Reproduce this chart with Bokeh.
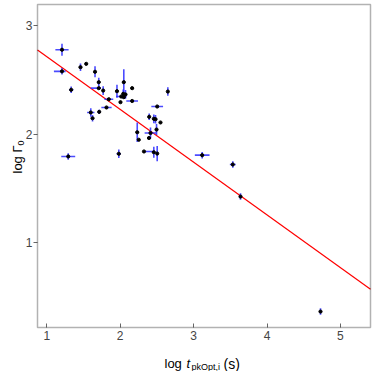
import numpy as np
from bokeh.plotting import figure
from bokeh.models import Range1d, FixedTicker, Label, LinearAxis, BoxAnnotation
from bokeh.embed import file_html
from bokeh.resources import INLINE

# ---- data ----
log_t = [1.207, 1.207, 1.459, 1.537, 1.657, 1.708, 1.708, 1.768, 1.332, 1.845,
         1.813, 1.599, 1.623, 1.714, 1.956, 2.049, 2.041, 2.014, 2.049, 2.072,
         2.004, 2.163, 2.163, 2.649, 2.504, 2.395, 2.458, 2.481, 2.549, 2.232,
         2.253, 2.413, 2.392, 2.495, 2.324, 2.458, 2.504, 1.981, 1.292, 3.117,
         3.534, 3.639, 4.729]
log_gamma = [2.777, 2.578, 2.616, 2.647, 2.574, 2.478, 2.423, 2.401, 2.408, 2.321,
             2.245, 2.199, 2.146, 2.205, 2.395, 2.478, 2.371, 2.346, 2.340, 2.365,
             2.294, 2.423, 2.305, 2.392, 2.254, 2.159, 2.141, 2.137, 2.107, 2.017,
             1.948, 2.010, 1.964, 2.042, 1.840, 1.833, 1.821, 1.819, 1.794, 1.806,
             1.720, 1.425, 0.366]
t_err_lo = [0.09, 0.11, 0.0, 0.0, 0.0, 0.0, 0.11, 0.0, 0.03, 0.06,
            0.07, 0.05, 0.0, 0.02, 0.0, 0.0, 0.0, 0.07, 0.0, 0.0,
            0.0, 0.0, 0.08, 0.0, 0.08, 0.0, 0.0, 0.0, 0.0, 0.0,
            0.0, 0.08, 0.0, 0.0, 0.0, 0.0, 0.0, 0.03, 0.095, 0.10,
            0.04, 0.0, 0.0]
t_err_hi = [0.09, 0.05, 0.0, 0.0, 0.0, 0.0, 0.03, 0.0, 0.03, 0.06,
            0.07, 0.05, 0.0, 0.02, 0.0, 0.0, 0.0, 0.07, 0.0, 0.0,
            0.0, 0.0, 0.08, 0.0, 0.08, 0.0, 0.0, 0.0, 0.0, 0.0,
            0.0, 0.08, 0.0, 0.0, 0.13, 0.0, 0.0, 0.03, 0.095, 0.10,
            0.04, 0.0, 0.0]
g_err_lo = [0.055, 0.03, 0.035, 0.0, 0.05, 0.04, 0.0, 0.04, 0.03, 0.0,
            0.0, 0.04, 0.03, 0.02, 0.06, 0.12, 0.04, 0.0, 0.0, 0.04,
            0.0, 0.0, 0.0, 0.04, 0.0, 0.03, 0.04, 0.04, 0.0, 0.09,
            0.0, 0.05, 0.0, 0.05, 0.0, 0.05, 0.07, 0.04, 0.03, 0.03,
            0.03, 0.03, 0.03]
g_err_hi = g_err_lo

fit_intercept = 3.198
fit_slope = -0.4856

x_ticks = [1, 2, 3, 4, 5]
y_ticks = [1, 2, 3]

# ---- layout: the Bokeh frame covers the whole canvas; the plot box is drawn inside ----
W, H = 372, 371
X_ORIGIN_PX, X_SCALE = 46.3, 73.4     # pixel of x=1, pixels per unit
Y_ORIGIN_PX, Y_SCALE = 25.0, 108.6    # pixel of y=3, pixels per unit

def px_to_x(px):
    return 1 + (px - X_ORIGIN_PX) / X_SCALE

def py_to_y(py):
    return 3 - (py - Y_ORIGIN_PX) / Y_SCALE

box_l, box_r = px_to_x(37), px_to_x(370)
box_t, box_b = py_to_y(4), py_to_y(327)

p = figure(width=W, height=H, min_border=0,
           min_border_left=0, min_border_right=0, min_border_top=0, min_border_bottom=0,
           x_range=Range1d(px_to_x(0), px_to_x(W)), y_range=Range1d(py_to_y(H), py_to_y(0)),
           x_axis_location=None, y_axis_location=None,
           output_backend="svg", toolbar_location=None, tools="")
p.background_fill_color = "white"
p.border_fill_color = "white"
p.outline_line_color = None
for g in p.grid:
    g.visible = False

def style_axis(ax):
    ax.axis_line_color = None
    ax.major_tick_line_color = "#666666"
    ax.major_tick_line_width = 1
    ax.minor_tick_line_color = None
    ax.major_label_text_font = "Liberation Sans"
    ax.major_label_text_font_size = "12px"
    ax.major_label_text_color = "#444444"

xaxis = LinearAxis(fixed_location=box_b, ticker=FixedTicker(ticks=x_ticks))
style_axis(xaxis)
xaxis.major_tick_in = 4
xaxis.major_tick_out = 0
xaxis.major_label_standoff = 3
p.add_layout(xaxis, "below")

yaxis = LinearAxis(fixed_location=box_l, ticker=FixedTicker(ticks=y_ticks))
style_axis(yaxis)
yaxis.major_tick_in = 0
yaxis.major_tick_out = 4
yaxis.major_label_standoff = 1
p.add_layout(yaxis, "left")

p.add_layout(BoxAnnotation(left=box_l, right=box_r, bottom=box_b, top=box_t,
                           fill_color=None, fill_alpha=0, line_color="black",
                           line_width=1.5, level="overlay"))

# fit line
fx = np.array([box_l, box_r])
p.line(fx, fit_intercept + fit_slope * fx, line_color="red", line_width=1.2)

# error bars
x = np.array(log_t)
y = np.array(log_gamma)
xl = np.array(t_err_lo); xh = np.array(t_err_hi)
yl = np.array(g_err_lo); yh = np.array(g_err_hi)
mx = (xl + xh) > 0
p.segment(x0=(x - xl)[mx], y0=y[mx], x1=(x + xh)[mx], y1=y[mx],
          line_color="#2b2bff", line_alpha=0.85, line_width=1.6)
my = (yl + yh) > 0
p.segment(x0=x[my], y0=(y - yl)[my], x1=x[my], y1=(y + yh)[my],
          line_color="#2b2bff", line_alpha=0.85, line_width=1.6)

p.scatter(x, y, size=3.2, marker="circle", fill_color="black", line_color="black")

# axis titles built from text pieces (page pixel positions -> frame screen units)
F = "Liberation Sans"
def lab(txt, px, py, size, style="normal", angle=0.0):
    p.add_layout(Label(x=px, y=H - py, x_units="screen", y_units="screen", text=txt,
                       text_font=F, text_font_size=size, text_font_style=style,
                       text_color="black", text_align="left",
                       text_baseline="alphabetic", angle=angle))

lab("log", 164, 363, "13px")
lab("t", 186, 363, "13px", "italic")
lab("pkOpt,i", 191, 366, "9px")
lab("(s)", 223, 363, "14px")

lab("log \u0393", 17, 173, "13px", angle=np.pi / 2)
lab("0", 20, 145, "9px", angle=np.pi / 2)

open("out.html", "w").write(file_html(p, INLINE))
